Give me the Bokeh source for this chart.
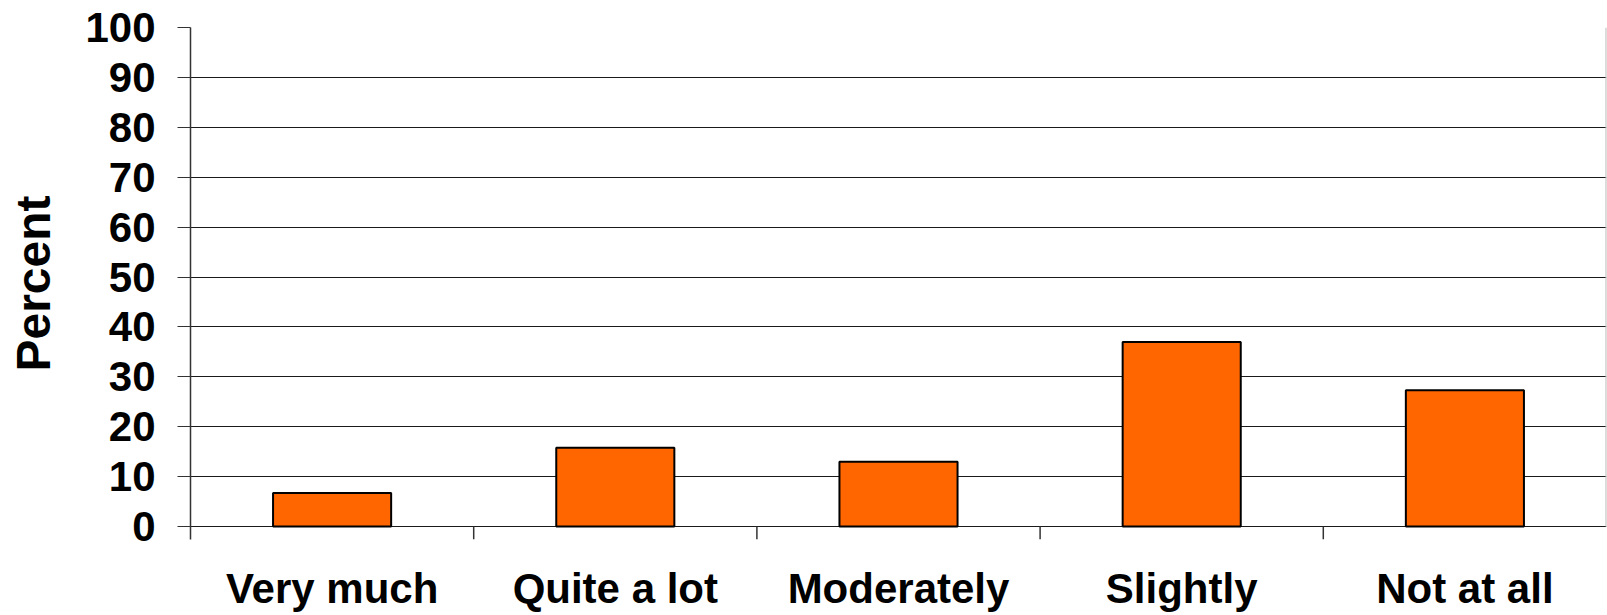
from bokeh.plotting import figure
from bokeh.models import FactorRange, Range1d, FixedTicker, ColumnDataSource
from bokeh.embed import file_html
from bokeh.resources import INLINE

categories = ["Very much", "Quite a lot", "Moderately", "Slightly", "Not at all"]
percent = [6.7, 15.8, 13.0, 37.0, 27.3]
y_ticks = [0, 10, 20, 30, 40, 50, 60, 70, 80, 90, 100]

FONT = "Liberation Sans"

p = figure(
    x_range=FactorRange(*categories, range_padding=0, factor_padding=0),
    y_range=Range1d(-2.6, 100),
    width=1607, height=615,
    output_backend="svg", toolbar_location=None,
    min_border_left=190, min_border_right=1, min_border_top=27, min_border_bottom=76,
)
p.outline_line_color = None
p.background_fill_color = "white"
p.border_fill_color = "white"

# grid
p.xgrid.grid_line_color = None
p.ygrid.ticker = FixedTicker(ticks=y_ticks)
p.ygrid.grid_line_color = "#1a1a1a"
p.ygrid.grid_line_width = 1

# y axis
p.yaxis.ticker = FixedTicker(ticks=y_ticks)
p.yaxis.axis_line_color = "#333333"
p.yaxis.axis_line_width = 1.5
p.yaxis.major_tick_line_color = "#333333"
p.yaxis.major_tick_in = 0
p.yaxis.major_tick_out = 13
p.yaxis.minor_tick_line_color = None
p.yaxis.major_label_text_font = FONT
p.yaxis.major_label_text_font_style = "bold"
p.yaxis.major_label_text_font_size = "42px"
p.yaxis.major_label_text_color = "black"
p.yaxis.major_label_standoff = 22
p.yaxis.axis_label = "Percent"
p.yaxis.axis_label_text_font = FONT
p.yaxis.axis_label_text_font_style = "bold"
p.yaxis.axis_label_text_font_size = "48px"
p.yaxis.axis_label_text_color = "black"
p.yaxis.axis_label_standoff = 22

# x axis
p.xaxis.axis_line_color = None
p.xaxis.major_tick_line_color = None
p.xaxis.minor_tick_line_color = None
p.xaxis.major_label_text_font = FONT
p.xaxis.major_label_text_font_style = "bold"
p.xaxis.major_label_text_font_size = "42px"
p.xaxis.major_label_text_color = "black"
p.xaxis.major_label_text_line_height = 1.0
p.xaxis.major_label_standoff = 19

src = ColumnDataSource(dict(cat=categories, pct=percent))
p.vbar(x="cat", top="pct", bottom=0, width=0.417, source=src,
       fill_color="#FF6600", line_color="black", line_width=2)

# category separator ticks below the zero line
bounds = [(c, 0.5) for c in categories[:-1]]
p.segment(x0=bounds, x1=bounds, y0=[0] * len(bounds), y1=[-2.6] * len(bounds),
          line_color="#333333", line_width=1.5)

# right border of plot area
edge = [(categories[-1], 0.499)]
p.segment(x0=edge, x1=edge, y0=[0], y1=[100], line_color="#bbbbbb", line_width=1.5)

open("out.html", "w").write(file_html(p, INLINE))
